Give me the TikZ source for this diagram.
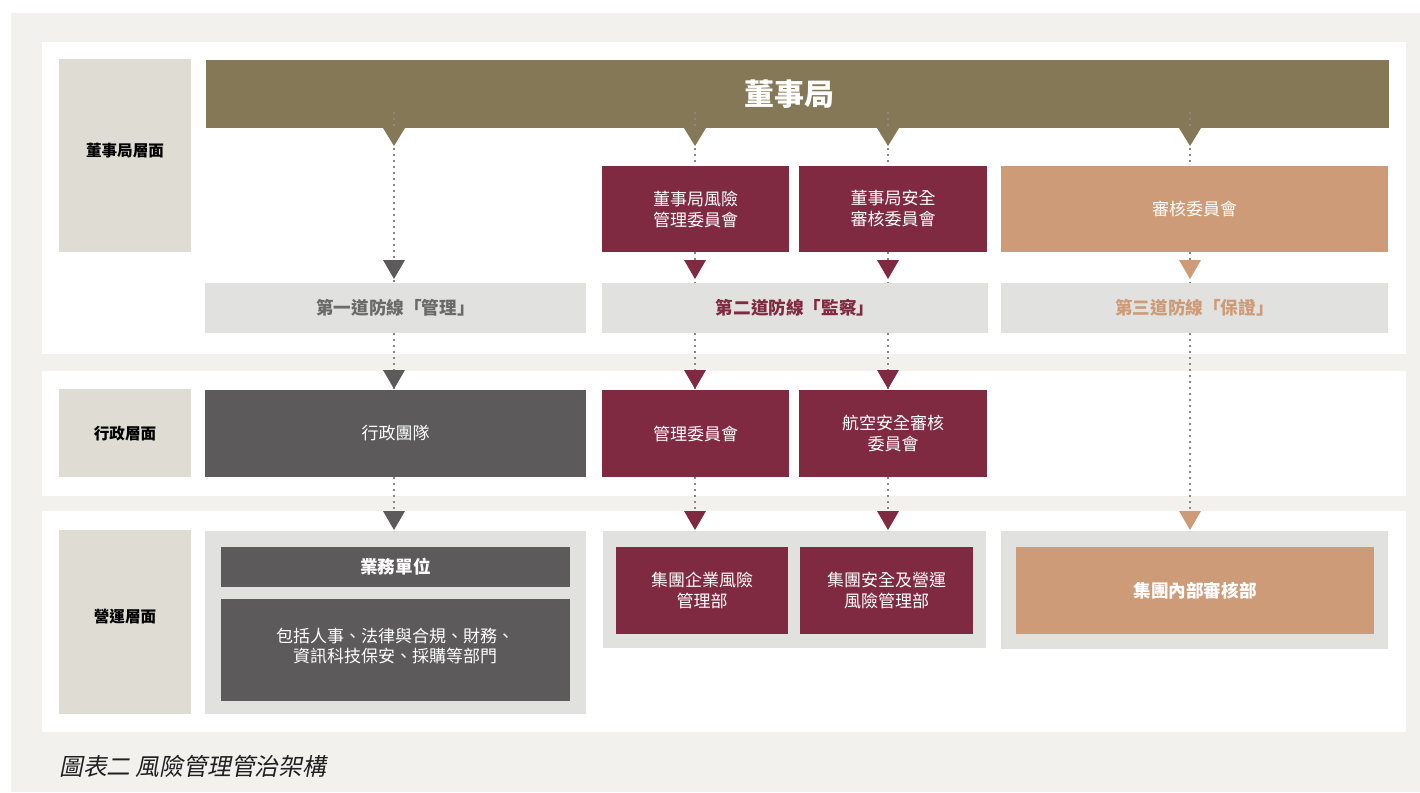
\documentclass[tikz,border=0pt]{standalone}
\usepackage{fontspec}
\setmainfont{Noto Sans CJK TC}
\newfontfamily\capfont[FakeSlant=0.2]{Noto Sans CJK TC}
\usetikzlibrary{calc}
\definecolor{bgout}{HTML}{F2F1ED}
\definecolor{lab}{HTML}{DFDCD4}
\definecolor{olive}{HTML}{857857}
\definecolor{maroon}{HTML}{7F2A40}
\definecolor{tan}{HTML}{CD9B77}
\definecolor{dgray}{HTML}{5C5A5B}
\definecolor{lgray}{HTML}{E1E1DF}
\definecolor{tgray}{HTML}{6A6A6A}
\definecolor{dotc}{HTML}{888888}
\definecolor{capc}{HTML}{231F20}
\tikzset{
 bxbase/.style={inner sep=0pt, outer sep=0pt, align=center, font=\fontsize{17}{21}\selectfont},
 labbox/.style={bxbase, fill=lab},
 labtext/.style={inner sep=0pt, text=black, font=\fontsize{15.6}{18}\selectfont\bfseries},
 marbox/.style={bxbase, fill=maroon, text=white},
 tanbox/.style={bxbase, fill=tan, text=white},
 darkbox/.style={bxbase, fill=dgray, text=white},
 greybox/.style={bxbase, fill=lgray},
 boldtxt/.style={font=\fontsize{17.6}{21}\selectfont\bfseries},
 panelbox/.style={bxbase, fill=white},
 dotl/.style={draw=dotc, line width=1.2pt, dash pattern=on 2pt off 4pt},
}
\newcommand\bx[7]{\node[#6, minimum width={(#4-#2)*1pt}, minimum height={(#5-#3)*1pt}] (#1) at ({(#2+#4)/2},{(#3+#5)/2}) {#7};}
\newcommand\dtri[3]{\fill[#3] ($(#1)+(0,-#2)$) -- ++(-11,-19) -- ++(22,0) -- cycle;}
\newcommand\utri[2]{\fill[#2] (#1) ++(-11,0) -- ++(22,0) -- ++(-11,18) -- cycle;}
\begin{document}
\begin{tikzpicture}[x=1pt,y=-1pt]
\useasboundingbox (0,0) rectangle (1420,792);
\fill[white] (0,0) rectangle (1420,792);
\fill[bgout] (11,13) rectangle (1420,792);
% panels
\bx{p1}{42}{42}{1406}{354}{panelbox}{}
\bx{p2}{42}{371}{1406}{496}{panelbox}{}
\bx{p3}{42}{511}{1406}{732}{panelbox}{}
% row labels
\bx{lab1}{59}{59}{191}{252}{labbox}{}
\bx{lab2}{59}{389}{191}{477}{labbox}{}
\bx{lab3}{59}{530}{191}{714}{labbox}{}
\node[labtext] (lab1t) at (125,151) {董事局層面};
\node[labtext] (lab2t) at (125,434) {行政層面};
\node[labtext] (lab3t) at (125,617) {營運層面};
% board
\bx{board}{206}{60}{1389}{128}{bxbase, fill=olive}{}
\node[inner sep=0pt, text=white, font=\fontsize{30}{34}\selectfont\bfseries] (boardt) at (789,94) {董事局};
% committees
\bx{brc}{602}{166}{789}{252}{marbox}{董事局風險\\管理委員會}
\bx{bsc}{799}{166}{987}{252}{marbox}{董事局安全\\審核委員會}
\bx{audc}{1001}{166}{1388}{252}{tanbox}{審核委員會}
% lines of defence
\bx{line1}{205}{283}{586}{333}{greybox, text=tgray, boldtxt}{第一道防線「管理」}
\bx{line2}{602}{283}{988}{333}{greybox, text=maroon, boldtxt}{第二道防線「監察」}
\bx{line3}{1001}{283}{1388}{333}{greybox, text=tan, boldtxt}{第三道防線「保證」}
% executive
\bx{exec}{205}{390}{586}{477}{darkbox}{行政團隊}
\bx{mgmt}{602}{390}{789}{477}{marbox}{管理委員會}
\bx{avs}{799}{390}{987}{477}{marbox}{航空安全審核\\委員會}
% operations
\bx{ops1}{205}{531}{586}{714}{greybox}{}
\bx{bu}{221}{547}{570}{587}{darkbox, boldtxt}{業務單位}
\bx{depts}{221}{599}{570}{701}{darkbox}{}
\node[inner sep=0pt, align=center, text=white, font=\fontsize{17}{20.5}\selectfont] (deptst) at (395,646) {包括人事、法律與合規、財務、\\資訊科技保安、採購等部門};
\bx{ops2}{603}{531}{986}{648}{greybox}{}
\bx{erm}{616}{547}{788}{634}{marbox}{集團企業風險\\管理部}
\bx{sorm}{800}{547}{973}{634}{marbox}{集團安全及營運\\風險管理部}
\bx{ops3}{1001}{531}{1388}{649}{greybox}{}
\bx{iad}{1016}{547}{1374}{634}{tanbox, boldtxt}{集團內部審核部}
% column coordinates
\coordinate (x1) at (394,0);
\coordinate (x2) at (695,0);
\coordinate (x3) at (888,0);
\coordinate (x4) at (1190,0);
% connectors
\draw[dotl] ([yshift=16pt]board.south -| x1) -- (line1.north -| x1);
\draw[dotl] (line1.south -| x1) -- (exec.north -| x1);
\draw[dotl] (exec.south -| x1) -- (ops1.north -| x1);
\draw[dotl] ([yshift=16pt]board.south -| x2) -- (brc.north -| x2);
\draw[dotl] (brc.south -| x2) -- (line2.north -| x2);
\draw[dotl] (line2.south -| x2) -- (mgmt.north -| x2);
\draw[dotl] (mgmt.south -| x2) -- (ops2.north -| x2);
\draw[dotl] ([yshift=16pt]board.south -| x3) -- (bsc.north -| x3);
\draw[dotl] (bsc.south -| x3) -- (line2.north -| x3);
\draw[dotl] (line2.south -| x3) -- (avs.north -| x3);
\draw[dotl] (avs.south -| x3) -- (ops2.north -| x3);
\draw[dotl] ([yshift=16pt]board.south -| x4) -- (audc.north -| x4);
\draw[dotl] (audc.south -| x4) -- (line3.north -| x4);
\draw[dotl] (line3.south -| x4) -- (ops3.north -| x4);
% arrowheads under the board
\utri{board.south -| x1}{olive}
\utri{board.south -| x2}{olive}
\utri{board.south -| x3}{olive}
\utri{board.south -| x4}{olive}
% arrowheads
\dtri{line1.north -| x1}{4}{dgray}
\dtri{exec.north -| x1}{1}{dgray}
\dtri{ops1.north -| x1}{1}{dgray}
\dtri{line2.north -| x2}{4}{maroon}
\dtri{mgmt.north -| x2}{1}{maroon}
\dtri{ops2.north -| x2}{1}{maroon}
\dtri{line2.north -| x3}{4}{maroon}
\dtri{avs.north -| x3}{1}{maroon}
\dtri{ops2.north -| x3}{1}{maroon}
\dtri{line3.north -| x4}{4}{tan}
\dtri{ops3.north -| x4}{1}{tan}
% caption
\node[anchor=west, inner sep=0pt, text=capc, font=\capfont\fontsize{23.8}{28}\selectfont] (cap) at (59,766) {圖表二 風險管理管治架構};
\end{tikzpicture}
\end{document}
